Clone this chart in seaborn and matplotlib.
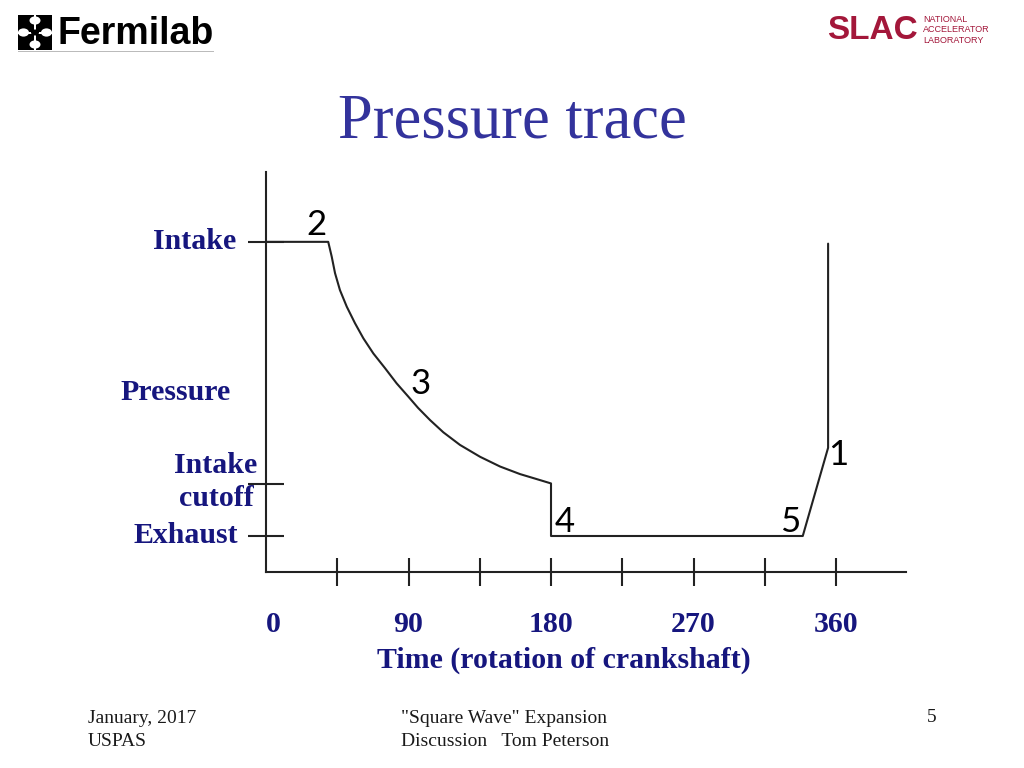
import matplotlib
matplotlib.use("Agg")
import matplotlib.pyplot as plt
import matplotlib.transforms as mtransforms
from matplotlib.patches import Rectangle, Circle
import seaborn as sns
import pandas as pd

# ---------------- data ----------------
crank_deg = [0, 39.3, 41.5, 43.6, 46.7, 51.0, 56.2, 61.5, 67.8, 75.2, 82.5, 89.9, 96.0,
             103.6, 112.0, 122.5, 135.2, 147.8, 160.4, 171.0, 180, 180, 339, 355, 355]
pressure = [9.17, 9.17, 8.76, 8.30, 7.83, 7.37, 6.91, 6.49, 6.07, 5.66, 5.24, 4.87, 4.56,
            4.22, 3.88, 3.53, 3.20, 2.93, 2.72, 2.58, 2.46, 1.0, 1.0, 3.45, 9.12]

ytick_values = [9.17, 2.45, 1.0]
ytick_names = ["Intake", "Intake\ncutoff", "Exhaust"]

xtick_marks = [45, 90, 135, 180, 225, 270, 315, 360]
xtick_label_values = [0, 90, 180, 270, 360]
xtick_label_texts = ["0", "90", "180", "270", "360"]

point_labels = ["2", "3", "1", "4", "5"]
point_label_x = [31.6, 97.9, 361.3, 188.4, 330.9]
point_label_y = [9.64, 5.22, 3.25, 1.39, 1.39]

title = "Pressure trace"
x_title = "Time (rotation of crankshaft)"
y_title = "Pressure"
footer_left = "January, 2017\nUSPAS"
footer_mid = "\"Square Wave\" Expansion\nDiscussion   Tom Peterson"
footer_right = "5"

# ---------------- style ----------------
sns.set_theme(style="white")
plt.rcParams["font.family"] = ["Liberation Serif", "DejaVu Serif"]

W, H = 1024, 768
fig = plt.figure(figsize=(W / 100, H / 100), dpi=100)
fig.patch.set_facecolor("white")


def fx(px):
    return px / W


def fy(py):
    return 1 - py / H


ax = fig.add_axes([fx(266), fy(572), 640 / W, 400 / H])
ax.set_facecolor("white")

df = pd.DataFrame({"deg": crank_deg, "p": pressure})
sns.lineplot(data=df, x="deg", y="p", sort=False, estimator=None,
             color="#222222", linewidth=1.5, ax=ax)

ax.set_xlim(0, 404.2)
ax.set_ylim(0, 11.11)
for s in ["top", "right"]:
    ax.spines[s].set_visible(False)
for s in ["left", "bottom"]:
    ax.spines[s].set_color("#222222")
    ax.spines[s].set_linewidth(1.5)

label_color = "#16167e"
lab_font = dict(family="Liberation Serif", fontweight="bold", color=label_color, fontsize=21.5)

# y ticks
ax.set_yticks(ytick_values)
ax.set_yticklabels([""] * len(ytick_values))
ax.tick_params(axis="y", direction="inout", length=26, width=1.5, color="#222222", left=True)
bt = mtransforms.blended_transform_factory(ax.transAxes, ax.transData)
ax.text(-0.047, ytick_values[0], ytick_names[0], transform=bt, ha="right", va="center", **lab_font)
ax.text(-0.078, 2.5, ytick_names[1], transform=bt, ha="center", va="center",
        multialignment="center", linespacing=1.32, **lab_font)
ax.text(-0.044, ytick_values[2], ytick_names[2], transform=bt, ha="right", va="center", **lab_font)

# x ticks
ax.set_xticks(xtick_marks)
ax.set_xticklabels([""] * len(xtick_marks))
ax.tick_params(axis="x", direction="inout", length=20, width=1.5, color="#222222", bottom=True)
bx = mtransforms.blended_transform_factory(ax.transData, ax.transAxes)
for v, t in zip(xtick_label_values, xtick_label_texts):
    ax.text(v, -0.13, t, transform=bx, ha="left" if v == 0 else "center", va="center", **lab_font)

ax.set_xlabel(x_title, **lab_font)
ax.xaxis.set_label_coords((564 - 266) / 640, (572 - 660) / 400)
ax.xaxis.label.set_va("center")
ax.set_ylabel(y_title, rotation=0, **lab_font)
ax.yaxis.set_label_coords((176 - 266) / 640, (572 - 393) / 400)
ax.yaxis.label.set_va("center")
ax.yaxis.label.set_ha("center")

# point labels
for t, x, y in zip(point_labels, point_label_x, point_label_y):
    ax.text(x, y, t, ha="center", va="center", fontsize=25, family="Lato", color="black")

# title
fig.text(0.5, fy(123), title, ha="center", va="center", fontsize=45,
         family="Liberation Serif", color="#33339c")

# footer
foot = dict(family="Liberation Serif", fontsize=14, color="#1a1a1a", va="center", linespacing=1.45)
fig.text(fx(88), fy(730), footer_left, ha="left", **foot)
fig.text(fx(401), fy(730), footer_mid, ha="left", **foot)
fig.text(fx(936), fy(718), footer_right, ha="right", **foot)

# ---- Fermilab logo ----
fig.text(fx(58), fy(34), "Fermilab", ha="left", va="center", fontsize=27,
         family="Liberation Sans", fontweight="bold", color="black")
fig.add_artist(Rectangle((fx(18), fy(50)), 34 / W, 35 / H, transform=fig.transFigure,
                         facecolor="black", edgecolor="none"))
for cx, cy in [(35, 20.5), (35, 44.5), (23.5, 32.5), (46.5, 32.5)]:
    fig.add_artist(Circle((fx(cx), fy(cy)), 5.5 / W, transform=fig.transFigure,
                          facecolor="white", edgecolor="none"))
fig.add_artist(Rectangle((fx(18), fy(33.5)), 34 / W, 2 / H, transform=fig.transFigure,
                         facecolor="white", edgecolor="none"))
fig.add_artist(Rectangle((fx(34), fy(50)), 2 / W, 35 / H, transform=fig.transFigure,
                         facecolor="white", edgecolor="none"))
fig.add_artist(Circle((fx(35), fy(32.5)), 4 / W, transform=fig.transFigure,
                      facecolor="black", edgecolor="none"))
fig.add_artist(Rectangle((fx(18), fy(52)), 196 / W, 1 / H, transform=fig.transFigure,
                         facecolor="#bbbbbb", edgecolor="none"))

# ---- SLAC logo ----
slac_red = "#a3173a"
fig.text(fx(827), fy(30.5), "SLAC", ha="left", va="center", fontsize=24,
         family="Liberation Sans", fontweight="bold", color=slac_red)
for yy in [28.0, 33.0]:
    fig.add_artist(Rectangle((fx(824), fy(yy + 1)), 95 / W, 1.6 / H, transform=fig.transFigure,
                             facecolor="white", edgecolor="none"))
fig.text(fx(923), fy(30), "NATIONAL\nACCELERATOR\nLABORATORY", ha="left", va="center",
         fontsize=6.5, family="Liberation Sans", color=slac_red, linespacing=1.2)

fig.savefig("out.png", dpi=100)
